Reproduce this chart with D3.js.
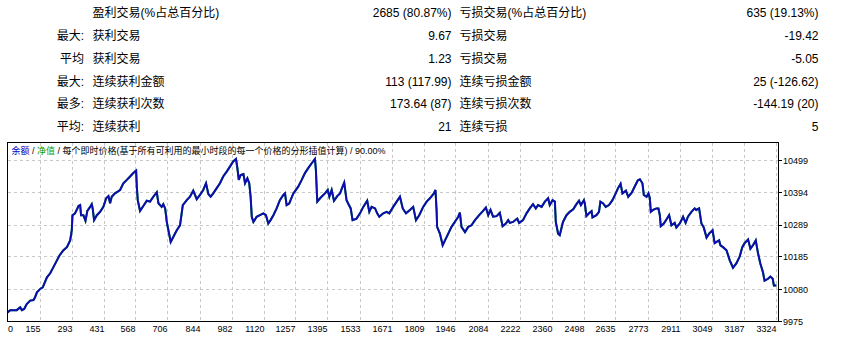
<!DOCTYPE html>
<html><head><meta charset="utf-8">
<script src="https://cdn.jsdelivr.net/npm/d3@7"></script>
<style>
html,body{margin:0;padding:0;background:#fff;}
svg{display:block;}
text{font-family:"Liberation Sans","Noto Sans CJK SC",sans-serif;}
</style></head><body>
<svg id="c" width="845" height="338"></svg>
<script>
// ---- summary table ----
const rowPrefix = ["", "最大:", "平均", "最大:", "最多:", "平均:"];
const leftLabels = ["盈利交易(%占总百分比)", "获利交易", "获利交易", "连续获利金额", "连续获利次数", "连续获利"];
const leftValues = ["2685 (80.87%)", "9.67", "1.23", "113 (117.99)", "173.64 (87)", "21"];
const rightLabels = ["亏损交易(%占总百分比)", "亏损交易", "亏损交易", "连续亏损金额", "连续亏损次数", "连续亏损"];
const rightValues = ["635 (19.13%)", "-19.42", "-5.05", "25 (-126.62)", "-144.19 (20)", "5"];

// ---- chart ----
const titleParts = ["余额", " / ", "净值", " / 每个即时价格(基于所有可利用的最小时段的每一个价格的分形插值计算) / 90.00%"];
const xTickLabels = [0,155,293,431,568,706,844,982,1120,1257,1395,1533,1671,1809,1946,2084,2222,2360,2498,2635,2773,2911,3049,3187,3324];
const yTickLabels = [9975,10080,10185,10289,10394,10499];

const trades = [17,29,57,72,79,89,100,115,129,136,144,158,169,187,201,215,230,241,258,273,287,294,297,308,323,330,334,344,353,361,373,380,384,390,402,416,430,442,452,459,466,480,502,516,531,545,559,571,574,578,588,602,617,631,645,660,667,681,688,696,703,710,720,731,746,760,772,789,803,817,832,846,860,872,882,892,903,918,932,946,961,975,989,1001,1007,1013,1021,1033,1040,1050,1058,1064,1069,1076,1090,1104,1119,1130,1140,1150,1162,1176,1190,
1205,1212,1219,1230,1248,1269,1284,1298,1312,1327,1341,1345,1351,1363,1384,1396,1403,1413,1423,1437,1449,1460,1467,1477,1484,1495,1503,1520,1535,1549,1566,1575,1585,1600,1609,1618,1635,1650,1661,1678,1693,1707,1719,1733,1750,1764,1776,1790,1807,1822,1836,1853,1860,1865,1867,1879,1891,1901,1915,1929,1943,1958,1965,1972,1987,2001,2015,2030,2048,2065,2077,2087,2097,2108,2123,2137,2149,2163,2173,2180,2194,2212,2220,2237,2252,2266,2280,2292,2302,2317,2331,2345,2352,2364,2374,2378,2388,2395,
2409,2424,2438,2453,2467,2478,2486,2499,2503,2510,2521,2532,2536,2553,2564,2570,2582,2593,2607,2622,2636,2646,2657,2665,2680,2690,2705,2719,2731,2740,2751,2757,2769,2777,2783,2787,2797,2811,2820,2826,2830,2843,2857,2866,2876,2890,2897,2912,2926,2937,2947,2962,2976,2983,2995,3005,3015,3027,3038,3053,3062,3081,3087,3098,3113,3127,3141,3156,3170,3181,3191,3206,3216,3227,3239,3249,3259,3270,3277,3292,3302,3312,3317,3328];
const balance = [10004,10012,10012,10021,10012,10016,10032,10043,10045,10054,10070,10081,10086,10119,10132,10152,10174,10190,10207,10217,10239,10272,10321,10327,10351,10354,10321,10321,10303,10335,10348,10357,10343,10305,10321,10332,10348,10376,10383,10360,10381,10392,10403,10425,10436,10447,10458,10466,10414,10370,10335,10351,10368,10365,10381,10396,10360,10348,10357,10343,10299,10272,10234,10250,10272,10288,10354,10370,10381,10401,10373,10387,10403,10425,10390,10381,10392,10409,10425,10447,10463,10479,10496,10504,10474,10436,10452,10455,10425,10441,10425,10381,10316,10299,10316,10321,10327,10321,10294,10305,10321,10343,10370,
10387,10392,10354,10359,10392,10414,10436,10458,10474,10490,10504,10469,10365,10376,10392,10403,10381,10403,10368,10383,10392,10414,10427,10370,10359,10343,10305,10310,10327,10348,10368,10332,10348,10343,10327,10316,10327,10332,10327,10348,10365,10381,10343,10327,10338,10348,10305,10321,10348,10365,10376,10392,10403,10332,10283,10261,10223,10239,10261,10283,10299,10316,10329,10283,10266,10283,10288,10305,10321,10335,10346,10321,10338,10316,10318,10329,10285,10294,10305,10296,10299,10310,10296,10305,10327,10343,10357,10343,10354,10348,10365,10376,10354,10370,10365,10299,10261,10256,
10299,10321,10332,10340,10357,10368,10354,10370,10359,10318,10327,10334,10314,10321,10332,10365,10359,10348,10354,10370,10392,10409,10423,10392,10401,10381,10394,10416,10434,10438,10425,10387,10381,10392,10376,10332,10338,10343,10343,10321,10285,10294,10310,10321,10288,10296,10281,10294,10316,10296,10316,10332,10343,10338,10343,10294,10281,10248,10261,10272,10230,10239,10223,10217,10207,10174,10150,10165,10187,10217,10230,10242,10212,10223,10239,10196,10163,10135,10108,10114,10121,10114,10092,10092];

const svg = d3.select("#c");

// table
const rowY = d3.scaleLinear().domain([0, 5]).range([16.7, 131.4]);
const tbl = svg.append("g").attr("font-size", 12).attr("fill", "#000");
const cols = [
  {data: rowPrefix, x: 84, anchor: "end"},
  {data: leftLabels, x: 92.5, anchor: "start"},
  {data: leftValues, x: 451.5, anchor: "end"},
  {data: rightLabels, x: 459.5, anchor: "start"},
  {data: rightValues, x: 818.5, anchor: "end"}
];
cols.forEach(c => {
  tbl.selectAll(null).data(c.data).enter().append("text")
    .attr("x", c.x).attr("y", (d, i) => rowY(i))
    .attr("text-anchor", c.anchor).text(d => d);
});

// chart frame
const L = 7.5, R = 778.5, T = 142.5, B = 321.5;
const x = d3.scaleLinear().domain([155, 3324]).range([39.5, 775.5]);
const y = d3.scaleLinear().domain([9975, 10499]).range([321.5, 160.5]);

const grid = svg.append("g").attr("stroke", "#c8c8c8").attr("stroke-dasharray", "3,3")
  .attr("shape-rendering", "crispEdges");
grid.selectAll(null).data(xTickLabels.filter(v => v > 0)).enter().append("line")
  .attr("x1", d => Math.round(x(d)) + 0.5).attr("x2", d => Math.round(x(d)) + 0.5)
  .attr("y1", T).attr("y2", B);
grid.selectAll(null).data(yTickLabels.filter(v => v > 9975)).enter().append("line")
  .attr("y1", d => Math.round(y(d) - 0.5) + 0.5).attr("y2", d => Math.round(y(d) - 0.5) + 0.5)
  .attr("x1", L).attr("x2", R);

// lines (equity drawn under balance)
const line = d3.line().x((d, i) => x(trades[i])).y(d => y(d));
svg.append("path").datum(balance).attr("d", line)
  .attr("fill", "none").attr("stroke", "#10a010").attr("stroke-width", 2);
svg.append("path").datum(balance).attr("d", line)
  .attr("fill", "none").attr("stroke", "#0c0cb0").attr("stroke-width", 2);

// frame
svg.append("rect").attr("x", L).attr("y", T).attr("width", R - L).attr("height", B - T)
  .attr("fill", "none").attr("stroke", "#000").attr("shape-rendering", "crispEdges");

// y axis ticks & labels
const ya = svg.append("g").attr("font-size", 9).attr("fill", "#000");
ya.selectAll(null).data(yTickLabels).enter().append("line")
  .attr("x1", R).attr("x2", R + 3)
  .attr("y1", d => Math.round(y(d) - 0.5) + 0.5).attr("y2", d => Math.round(y(d) - 0.5) + 0.5)
  .attr("stroke", "#000").attr("shape-rendering", "crispEdges");
ya.selectAll(null).data(yTickLabels).enter().append("text")
  .attr("x", 783).attr("y", d => y(d) + 3.3).text(d => d);

// x axis labels
const xa = svg.append("g").attr("font-size", 9).attr("fill", "#000");
xa.selectAll(null).data(xTickLabels).enter().append("text")
  .attr("x", d => d === 0 ? L + 0.5 : Math.round(x(d)) + 0.5)
  .attr("y", 332)
  .attr("text-anchor", d => d === 0 ? "start" : "end")
  .text(d => d);

// title
const colors = ["#0000c0", "#000", "#00a000", "#000"];
const title = svg.append("text").attr("x", 11.5).attr("y", 154).attr("font-size", 9);
title.selectAll("tspan").data(titleParts).enter().append("tspan")
  .attr("fill", (d, i) => colors[i]).attr("xml:space", "preserve").text(d => d);
</script>
</body></html>
